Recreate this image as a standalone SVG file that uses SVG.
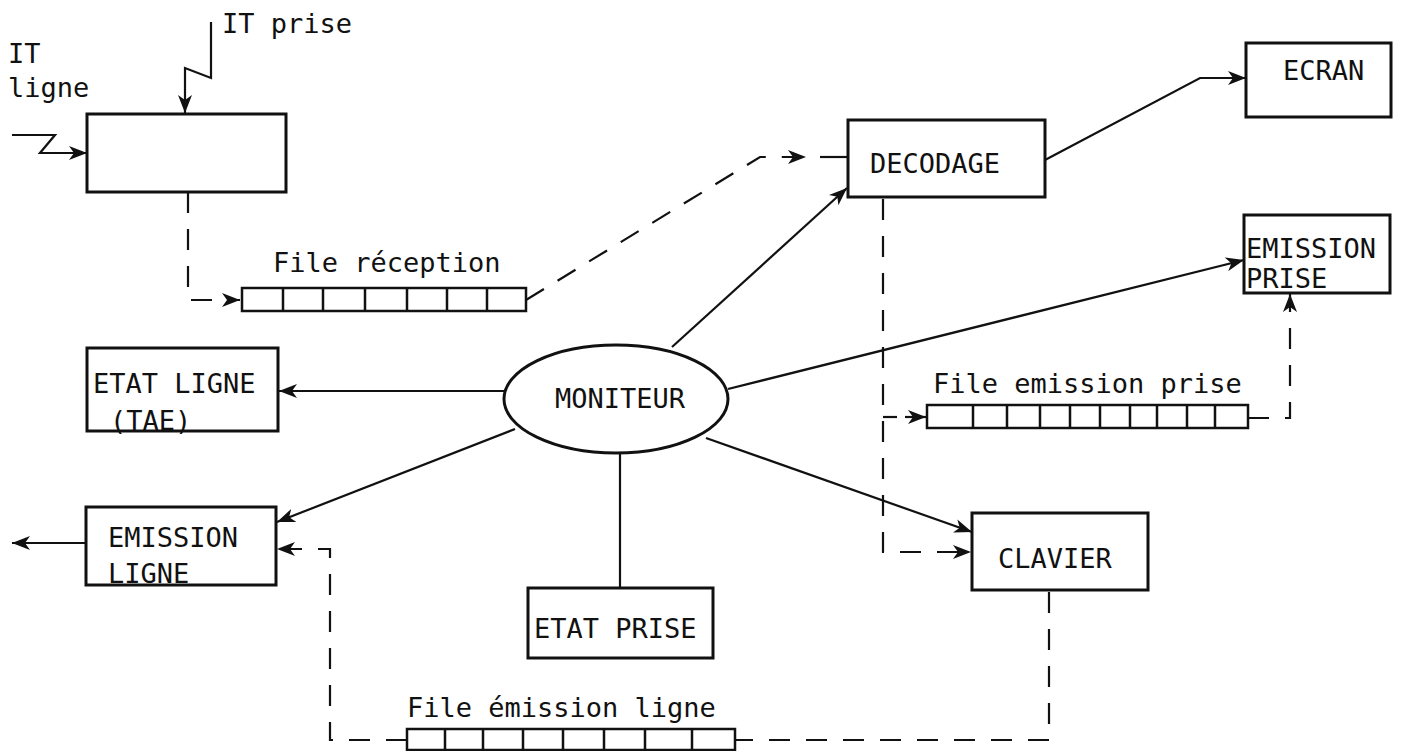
<svg xmlns="http://www.w3.org/2000/svg" width="1403" height="751" viewBox="0 0 1403 751">
<style>
.box{fill:#fff;stroke:#111;stroke-width:3}
.q{fill:#fff;stroke:#111;stroke-width:2.5}
.div{stroke:#111;stroke-width:2.5}
.c{fill:none;stroke:#111;stroke-width:2.2}
.d{fill:none;stroke:#111;stroke-width:2.2;stroke-dasharray:21 16}
text{font-family:"DejaVu Sans Mono","Liberation Mono",monospace;font-size:27px;fill:#111}
</style>
<defs>
<marker id="arr" markerUnits="userSpaceOnUse" markerWidth="20" markerHeight="14" refX="18" refY="7" orient="auto">
<path d="M0,0 L18,7 L0,14 L5,7 z" fill="#111"/>
</marker>
</defs>
<rect width="1403" height="751" fill="#fff"/>
<g id="connectors">
<polyline class="c" points="211,22 211,78 185,68 185,113" marker-end="url(#arr)"/>
<polyline class="c" points="12,135 55,135 40,153 87,153" marker-end="url(#arr)"/>
<polyline class="d" points="188,192 188,300 240,300" marker-end="url(#arr)"/>
<polyline class="d" points="526,300 760,157 806,157" marker-end="url(#arr)"/>
<line class="c" x1="820" y1="157" x2="848" y2="157"/>
<polyline class="c" points="1045,160 1200,78 1246,78" marker-end="url(#arr)"/>
<line class="c" x1="672" y1="347" x2="847" y2="188" marker-end="url(#arr)"/>
<line class="c" x1="728" y1="389" x2="1244" y2="260" marker-end="url(#arr)"/>
<line class="c" x1="505" y1="391" x2="279" y2="391" marker-end="url(#arr)"/>
<line class="c" x1="515" y1="429" x2="277" y2="522" marker-end="url(#arr)"/>
<line class="c" x1="620" y1="453" x2="620" y2="588"/>
<line class="c" x1="706" y1="438" x2="972" y2="532" marker-end="url(#arr)"/>
<polyline class="d" points="883,199 883,552 971,552" marker-end="url(#arr)"/>
<line class="c" x1="883" y1="417" x2="897" y2="417"/>
<line class="c" x1="905" y1="417" x2="926" y2="417" marker-end="url(#arr)"/>
<polyline class="d" points="1248,418 1290,418 1290,294" marker-end="url(#arr)"/>
<polyline class="d" points="1049,592 1049,740 735,740"/>
<polyline class="d" points="407,740 330,740 330,549 277,549" marker-end="url(#arr)"/>
<line class="c" x1="86" y1="543" x2="12" y2="543" marker-end="url(#arr)"/>
</g>
<g id="it-labels">
<text x="222" y="33">IT prise</text>
<text x="8" y="63">IT</text>
<text x="8" y="97">ligne</text>
</g>
<g id="reception">
<rect class="box" x="87" y="114" width="199" height="78"/>
</g>
<g id="file-reception">
<text x="273" y="272">File réception</text>
<rect class="q" x="242" y="288" width="284" height="23"/>
<path class="div" d="M283,288V311M323,288V311M365,288V311M407,288V311M447,288V311M487,288V311"/>
</g>
<g id="decodage">
<rect class="box" x="848" y="120" width="197" height="77"/>
<text x="870" y="173">DECODAGE</text>
</g>
<g id="ecran">
<rect class="box" x="1246" y="43" width="145" height="74"/>
<text x="1283" y="80">ECRAN</text>
</g>
<g id="emission-prise">
<rect class="box" x="1244" y="215" width="146" height="78"/>
<text x="1246" y="258">EMISSION</text>
<text x="1246" y="288">PRISE</text>
</g>
<g id="file-emission-prise">
<text x="933" y="393">File emission prise</text>
<rect class="q" x="927" y="405" width="321" height="23"/>
<path class="div" d="M973,405V428M1007,405V428M1040,405V428M1070,405V428M1100,405V428M1130,405V428M1157,405V428M1187,405V428M1215,405V428"/>
</g>
<g id="etat-ligne">
<rect class="box" x="87" y="348" width="191" height="83"/>
<text x="93" y="393">ETAT LIGNE</text>
<text x="110" y="430">(TAE)</text>
</g>
<g id="moniteur">
<ellipse cx="616" cy="399" rx="112" ry="54" fill="#fff" stroke="#111" stroke-width="3"/>
<text x="555" y="408">MONITEUR</text>
</g>
<g id="emission-ligne">
<rect class="box" x="86" y="507" width="190" height="78"/>
<text x="108" y="547">EMISSION</text>
<text x="108" y="583">LIGNE</text>
</g>
<g id="etat-prise">
<rect class="box" x="528" y="588" width="185" height="70"/>
<text x="534" y="638">ETAT PRISE</text>
</g>
<g id="clavier">
<rect class="box" x="972" y="513" width="176" height="77"/>
<text x="998" y="568">CLAVIER</text>
</g>
<g id="file-emission-ligne">
<text x="407" y="717">File émission ligne</text>
<rect class="q" x="407" y="729" width="328" height="21"/>
<path class="div" d="M445,729V750M483,729V750M523,729V750M563,729V750M604,729V750M645,729V750M692,729V750"/>
</g>
</svg>
